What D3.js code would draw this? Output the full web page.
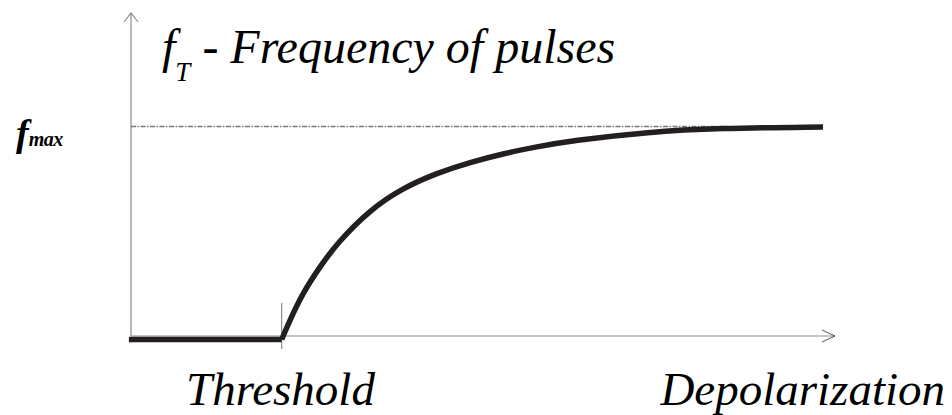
<!DOCTYPE html>
<html>
<head>
<meta charset="utf-8">
<script src="https://cdn.jsdelivr.net/npm/d3@7"></script>
<style>
  html, body { margin: 0; padding: 0; background: #fff; }
  svg { display: block; }
</style>
</head>
<body>
<figure style="margin:0"></figure>
<script>
// depolarization (0..100) vs frequency as a fraction of f_max
const threshold = 21.4;
const flatX = [-0.3, 21.4];
const flatY = [0, 0];
const riseX = [21.4, 22.6, 24.4, 26.8, 29.3, 33.9, 38.6, 43.5, 48.2, 52.8, 57.7, 62.4, 73.7, 83.2, 98.3];
const riseY = [0, 0.092, 0.218, 0.34, 0.453, 0.608, 0.711, 0.782, 0.832, 0.872, 0.905, 0.933, 0.975, 0.992, 0.998];
const fmax = 1;
const labels = { title: "Frequency of pulses", xStart: "Threshold", xEnd: "Depolarization" };

const width = 952;
const height = 415;
const serif = "'Liberation Serif'";

const svg = d3.select("figure").append("svg")
  .attr("width", width)
  .attr("height", height);

const x = d3.scaleLinear().domain([0, 100]).range([131, 835]);
const y = d3.scaleLinear().domain([0, 1]).range([339.5, 126.5]);

const axisY = y(0) - 3.5;
const axisColor = "#8a8a8a";

// axes
svg.append("line")
  .attr("x1", x(0)).attr("x2", x(0))
  .attr("y1", axisY).attr("y2", 13)
  .attr("stroke", axisColor).attr("stroke-width", 1.2);
svg.append("path")
  .attr("d", `M${x(0) - 7},${13 + 9}L${x(0)},13L${x(0) + 7},${13 + 9}`)
  .attr("fill", "none").attr("stroke", axisColor).attr("stroke-width", 1.2);

svg.append("line")
  .attr("x1", x(0)).attr("x2", x(100))
  .attr("y1", axisY).attr("y2", axisY)
  .attr("stroke", axisColor).attr("stroke-width", 1.2);
svg.append("path")
  .attr("d", `M${x(100) - 13},${axisY - 6}L${x(100)},${axisY}L${x(100) - 13},${axisY + 6}`)
  .attr("fill", "none").attr("stroke", "#555").attr("stroke-width", 1);

// threshold tick
svg.append("line")
  .attr("x1", x(threshold)).attr("x2", x(threshold))
  .attr("y1", 303).attr("y2", 349)
  .attr("stroke", axisColor).attr("stroke-width", 1.2);

// f_max reference line
svg.append("line")
  .attr("x1", x(0)).attr("x2", x(84))
  .attr("y1", y(fmax)).attr("y2", y(fmax))
  .attr("stroke", "#777").attr("stroke-width", 1.3)
  .attr("stroke-dasharray", "5,1.5,1.5,1.5");

// curve
const line = d3.line()
  .x((d) => x(d[0]))
  .y((d) => y(d[1]));

svg.append("path")
  .datum(d3.zip(flatX, flatY))
  .attr("d", line)
  .attr("fill", "none").attr("stroke", "#231f20").attr("stroke-width", 5.5);

svg.append("path")
  .datum(d3.zip(riseX, riseY))
  .attr("d", line.curve(d3.curveBasis))
  .attr("fill", "none").attr("stroke", "#231f20").attr("stroke-width", 5.5)
  .attr("stroke-linejoin", "miter");

// labels
const addText = (xPos, yPos, size) =>
  svg.append("text")
    .attr("x", xPos).attr("y", yPos)
    .attr("font-family", serif)
    .attr("font-style", "italic")
    .attr("font-size", size)
    .attr("fill", "#000");

const title = addText(162, 63, 48);
title.append("tspan").text("f");
title.append("tspan").attr("dy", 18).attr("font-size", 27).text("T");
title.append("tspan").attr("dy", -18).text(" - " + labels.title);

const fm = addText(16, 146, 38).attr("font-weight", "bold");
fm.append("tspan").text("f");
fm.append("tspan").attr("dx", 0).attr("font-size", 20).attr("letter-spacing", -0.5).text("max");

addText(186, 405, 47).text(labels.xStart);

addText(945, 405, 47)
  .attr("text-anchor", "end")
  .text(labels.xEnd);
</script>
</body>
</html>
